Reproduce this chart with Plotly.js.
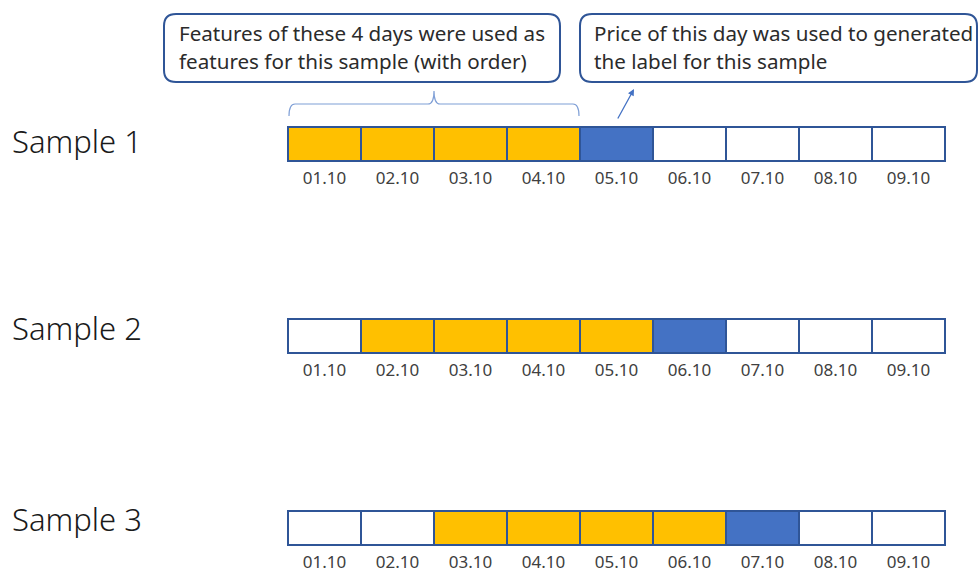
<!DOCTYPE html>
<html>
<head>
<meta charset="utf-8">
<script src="https://cdn.plot.ly/plotly-3.0.1.min.js"></script>
<style>html,body{margin:0;padding:0;background:#fff;}#chart{width:979px;height:572px;}</style>
</head>
<body>
<div id="chart"></div>
<script>
// ---- data ----
const dates = ['01.10','02.10','03.10','04.10','05.10','06.10','07.10','08.10','09.10'];
const samples = ['Sample 1','Sample 2','Sample 3'];
const featureStart = [0, 1, 2];   // index of first feature day for each sample
const windowLen = 4;              // number of feature days
const calloutFeature = ['Features of these 4 days were used as', 'features for this sample (with order)'];
const calloutLabel = ['Price of this day was used to generated', 'the label for this sample'];

// ---- style / layout constants ----
const W = 979, H = 572;
const CELL_PX = 73, LEFT_PX = 288;
const ROW_TOP = 127, ROW_GAP = 192, ROW_H = 34;
const GOLD = '#FFC000', BLUE = '#4472C4', EDGE = '#2F5597';
const FONT = '"Noto Sans", "DejaVu Sans", sans-serif';

const px = x => x / W;
const py = y => 1 - y / H;
function P(x, y) { return px(x).toFixed(5) + ' ' + py(y).toFixed(5); }

const shapes = [];
const textX = [], textY = [], textS = [];
samples.forEach((s, r) => {
  const top = ROW_TOP + r * ROW_GAP;
  dates.forEach((d, i) => {
    let fill = '#FFFFFF';
    if (i >= featureStart[r] && i < featureStart[r] + windowLen) fill = GOLD;
    else if (i === featureStart[r] + windowLen) fill = BLUE;
    shapes.push({type:'rect', xref:'x', yref:'y', x0:i, x1:i+1, y0:top, y1:top+ROW_H,
      fillcolor:fill, line:{color:EDGE, width:2}, layer:'above'});
    textX.push(i + 0.5); textY.push(top + ROW_H + 19); textS.push(d);
  });
});

// callout boxes (rounded)
function roundRect(x0, y0, x1, y1, r) {
  return 'M ' + P(x0 + r, y0) + ' L ' + P(x1 - r, y0) + ' Q ' + P(x1, y0) + ' ' + P(x1, y0 + r) +
    ' L ' + P(x1, y1 - r) + ' Q ' + P(x1, y1) + ' ' + P(x1 - r, y1) +
    ' L ' + P(x0 + r, y1) + ' Q ' + P(x0, y1) + ' ' + P(x0, y1 - r) +
    ' L ' + P(x0, y0 + r) + ' Q ' + P(x0, y0) + ' ' + P(x0 + r, y0) + ' Z';
}
shapes.push({type:'path', xref:'paper', yref:'paper', path:roundRect(164, 14, 560, 82, 12),
  line:{color:EDGE, width:2}, fillcolor:'#FFFFFF'});
shapes.push({type:'path', xref:'paper', yref:'paper', path:roundRect(580, 14, 977, 82, 12),
  line:{color:EDGE, width:2}, fillcolor:'#FFFFFF'});

// brace over the feature days of sample 1
const bx0 = LEFT_PX + featureStart[0] * CELL_PX + 1;
const bx1 = LEFT_PX + (featureStart[0] + windowLen) * CELL_PX - 1;
const bm = LEFT_PX + (featureStart[0] + windowLen / 2) * CELL_PX;
shapes.push({type:'path', xref:'paper', yref:'paper',
  path:'M ' + P(bx0, 116) + ' Q ' + P(bx0, 104) + ' ' + P(bx0 + 6, 104) + ' L ' + P(bm - 6, 104) +
    ' Q ' + P(bm, 104) + ' ' + P(bm, 91) + ' Q ' + P(bm, 104) + ' ' + P(bm + 6, 104) +
    ' L ' + P(bx1 - 6, 104) + ' Q ' + P(bx1, 104) + ' ' + P(bx1, 116),
  line:{color:'#7F9FD6', width:1.2}});

const annotations = [];
const sampleOffset = [-3, -8, -9];
samples.forEach((s, r) => {
  const top = ROW_TOP + r * ROW_GAP;
  annotations.push({xref:'paper', yref:'y', x:px(10), y:top + ROW_H / 2 + sampleOffset[r], xanchor:'left', yanchor:'middle',
    text:s, showarrow:false, font:{family:FONT, size:31, color:'#1a1a1a', weight:300}});
});
calloutFeature.forEach((t, k) => annotations.push({xref:'paper', yref:'paper', x:px(177), y:py(33 + k * 28),
  xanchor:'left', yanchor:'middle', text:t, showarrow:false, font:{family:FONT, size:20.6, color:'#2b2b2b'}}));
calloutLabel.forEach((t, k) => annotations.push({xref:'paper', yref:'paper', x:px(592), y:py(33 + k * 28),
  xanchor:'left', yanchor:'middle', text:t, showarrow:false, font:{family:FONT, size:20.6, color:'#2b2b2b'}}));
// arrow pointing to the label box
annotations.push({xref:'paper', yref:'paper', x:px(634), y:py(89), ax:-17, ay:31, text:'',
  showarrow:true, arrowhead:2, arrowsize:1, arrowwidth:1.3, arrowcolor:BLUE});

const trace = {type:'scatter', mode:'text', x:textX, y:textY, text:textS,
  textfont:{family:FONT, size:17, color:'#404040'}, hoverinfo:'skip', showlegend:false, cliponaxis:false};

const layout = {
  width:W, height:H, margin:{l:0, r:0, t:0, b:0},
  paper_bgcolor:'#FFFFFF', plot_bgcolor:'#FFFFFF',
  xaxis:{range:[-LEFT_PX / CELL_PX, (W - LEFT_PX) / CELL_PX], visible:false, fixedrange:true},
  yaxis:{range:[H, 0], visible:false, fixedrange:true},
  shapes:shapes, annotations:annotations, showlegend:false
};
Plotly.newPlot('chart', [trace], layout, {displayModeBar:false, staticPlot:true});
</script>
</body>
</html>
